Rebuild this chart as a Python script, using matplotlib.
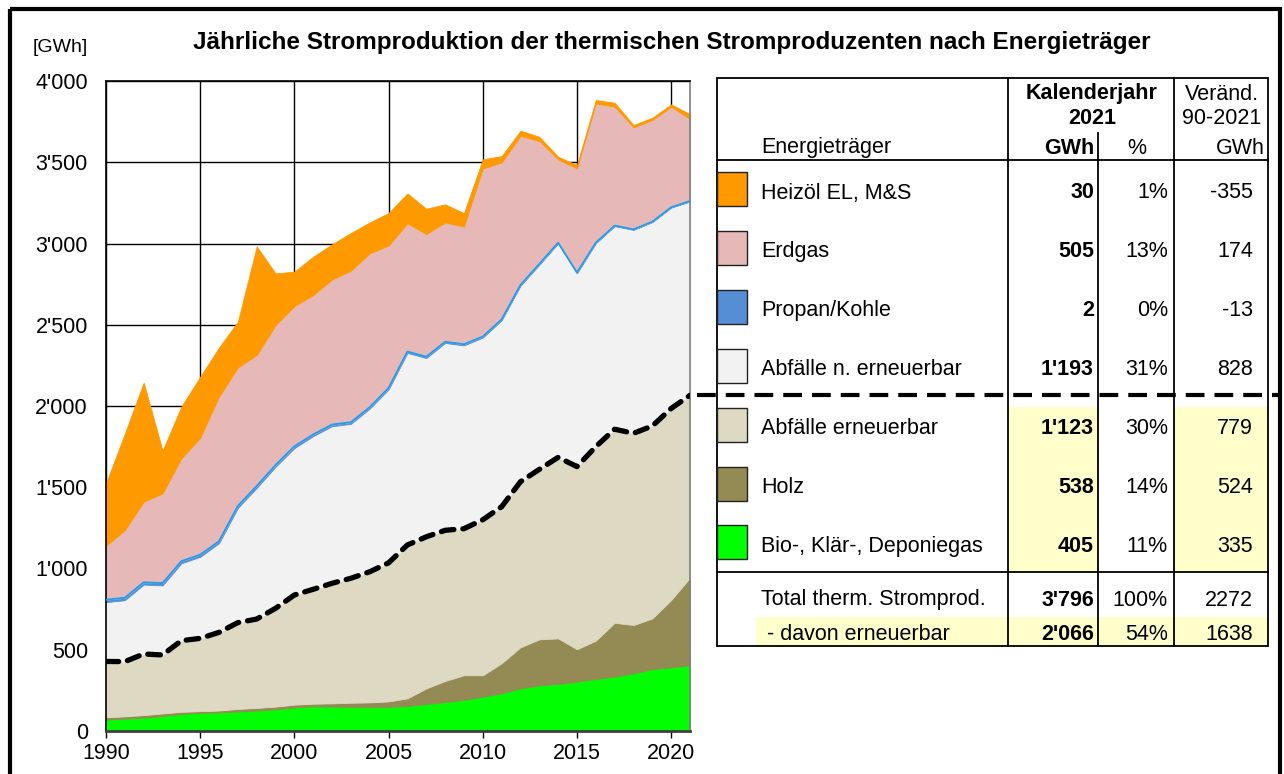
import numpy as np
import matplotlib
matplotlib.use('Agg')
import matplotlib.pyplot as plt
from matplotlib.patches import Rectangle
from matplotlib.ticker import FuncFormatter, MultipleLocator

plt.rcParams['font.family'] = ['Liberation Sans', 'DejaVu Sans']

# ---- data (GWh) ----
years = np.arange(1990, 2022)
bio = [70, 76, 82, 92, 105, 112, 114, 120, 126, 133, 145, 152, 150, 148, 146, 148,
       154, 166, 178, 191, 211, 232, 262, 281, 289, 304, 320, 334, 355, 380, 392, 405]
holz = [14, 14, 16, 16, 13, 10, 12, 16, 16, 17, 17, 16, 20, 26, 30, 34,
        47, 96, 130, 152, 132, 185, 253, 283, 281, 199, 236, 332, 297, 313, 414, 538]
abf_ern = [344, 337, 376, 360, 438, 448, 481, 531, 547, 605, 675, 704, 739, 766, 804, 853,
           944, 933, 927, 902, 957, 963, 1019, 1046, 1114, 1124, 1194, 1191, 1180, 1184, 1179, 1123]
abf_nicht = [365, 378, 427, 428, 476, 502, 549, 706, 807, 871, 904, 943, 967, 950, 1004, 1067,
             1182, 1100, 1153, 1128, 1121, 1147, 1206, 1259, 1317, 1190, 1252, 1250, 1252, 1255, 1236, 1193]
propan = [15, 15, 14, 14, 13, 13, 12, 12, 12, 11, 11, 10, 10, 10, 9, 9,
          8, 8, 7, 7, 6, 6, 5, 5, 4, 4, 3, 3, 3, 2, 2, 2]
erdgas = [331, 417, 496, 552, 633, 720, 890, 853, 806, 861, 863, 858, 893, 933, 947, 877,
          790, 755, 735, 724, 1035, 966, 917, 757, 513, 641, 857, 732, 628, 626, 619, 505]
heizoel = [385, 593, 733, 263, 318, 375, 302, 281, 668, 318, 212, 236, 216, 232, 190, 200,
           183, 156, 111, 83, 56, 39, 32, 26, 16, 21, 21, 24, 14, 14, 14, 30]

layers = [bio, holz, abf_ern, abf_nicht, propan, erdgas, heizoel]
colors = ['#00ff00', '#948a54', '#ddd9c3', '#f2f2f2', '#558ed5', '#e6b9b8', '#ff9900']

# table
tab_labels = ['Heizöl EL, M&S', 'Erdgas', 'Propan/Kohle', 'Abfälle n. erneuerbar',
              'Abfälle erneuerbar', 'Holz', 'Bio-, Klär-, Deponiegas']
tab_gwh = ["30", "505", "2", "1'193", "1'123", "538", "405"]
tab_pct = ['1%', '13%', '0%', '31%', '30%', '14%', '11%']
tab_chg = ['-355', '174', '-13', '828', '779', '524', '335']
tab_colors = colors[::-1]
tot_row = ['Total therm. Stromprod.', "3'796", '100%', '2272']
ren_row = [' - davon erneuerbar', "2'066", '54%', '1638']

W, H = 1284, 774
fig = plt.figure(figsize=(W / 100, H / 100), dpi=100)

# overlay in pixel coordinates for frame and table
ov = fig.add_axes([0, 0, 1, 1], zorder=0)
ov.set_xlim(0, W)
ov.set_ylim(H, 0)
ov.axis('off')

ov.add_patch(Rectangle((10, 9), 1270, 800, fill=False, lw=3, ec='black', clip_on=False))

# chart
ax = fig.add_axes([106 / W, 1 - 731 / H, 584 / W, 650 / H], zorder=2)
cum = np.vstack([np.zeros(len(years)), np.cumsum(np.array(layers), axis=0)])
for i, c in enumerate(colors):
    ax.fill_between(years, cum[i], cum[i + 1], color=c, lw=0.6, ec=c, zorder=2)
ax.plot(years, cum[5], color='#1e9cf0', lw=1.3, zorder=3)
renew = cum[3]
ax.plot(years, renew, color='black', lw=3.8, ls=(0, (2.4, 1.7)),
        dash_capstyle='round', zorder=4)
ax.plot([2021.35, 2052.3], [renew[-1], renew[-1]], color='black', lw=3.0,
        ls=(0, (4.5, 2.4)), clip_on=False, zorder=4)

ax.set_xlim(1990, 2021)
ax.set_ylim(0, 4000)
ax.xaxis.set_major_locator(MultipleLocator(5))
ax.yaxis.set_major_locator(MultipleLocator(500))
ax.yaxis.set_major_formatter(FuncFormatter(lambda v, p: f"{int(v):,}".replace(',', "'")))
ax.set_axisbelow(True)
ax.grid(True, color='black', lw=1.0)
ax.tick_params(axis='x', direction='inout', length=9.5, width=1, labelsize=15.5, pad=4)
ax.tick_params(axis='y', length=0, labelsize=15.5, pad=13)
for s in ['left', 'top']:
    ax.spines[s].set_color('black')
    ax.spines[s].set_linewidth(1.2)
ax.spines['right'].set_color('#808080')
ax.spines['right'].set_linewidth(1.2)
ax.spines['bottom'].set_color('#404040')
ax.spines['bottom'].set_linewidth(2)

fig.text(672 / W, 1 - 42 / H, 'Jährliche Stromproduktion der thermischen Stromproduzenten nach Energieträger',
         ha='center', va='center', fontsize=17.5, fontweight='bold')
fig.text(33 / W, 1 - 47 / H, '[GWh]', ha='left', va='center', fontsize=14)

# ---- table ----
fs = 15.5
xl, xr = 717, 1268
x1, x2, x3 = 1008, 1098, 1174
top, hdr, sep, bot = 78, 160, 572, 646

# yellow highlights
ov.add_patch(Rectangle((x1, 407), x2 - x1, sep - 407, color='#ffffcc', lw=0))
ov.add_patch(Rectangle((x3, 407), xr - x3, sep - 407, color='#ffffcc', lw=0))
ov.add_patch(Rectangle((756, 617), xr - 756, bot - 617, color='#ffffcc', lw=0))

ov.add_patch(Rectangle((xl, top), xr - xl, bot - top, fill=False, lw=1.3, ec='black'))
ov.plot([xl, xr], [hdr, hdr], color='black', lw=1.3)
ov.plot([xl, xr], [sep, sep], color='black', lw=1.3)
ov.plot([x1, x1], [top, bot], color='black', lw=1.3)
ov.plot([x3, x3], [top, bot], color='black', lw=1.3)
ov.plot([x2, x2], [133, bot], color='black', lw=1.3)

ov.text(1092, 94, 'Kalenderjahr', ha='center', va='center', fontsize=fs, fontweight='bold')
ov.text(1092, 119, '2021', ha='center', va='center', fontsize=fs, fontweight='bold')
ov.text(1222, 94, 'Veränd.', ha='center', va='center', fontsize=fs)
ov.text(1222, 119, '90-2021', ha='center', va='center', fontsize=fs)
ov.text(761, 148, 'Energieträger', ha='left', va='center', fontsize=fs)
ov.text(1094, 148, 'GWh', ha='right', va='center', fontsize=fs, fontweight='bold')
ov.text(1137, 148, '%', ha='center', va='center', fontsize=fs)
ov.text(1265, 148, 'GWh', ha='right', va='center', fontsize=fs)

for i in range(len(tab_labels)):
    yc = 189 + 58.9 * i
    ov.add_patch(Rectangle((xl, yc - 17), 30, 34, fc=tab_colors[i], ec='#222222', lw=1))
    ov.text(761, yc + 4, tab_labels[i], ha='left', va='center', fontsize=fs)
    ov.text(1094, yc + 4, tab_gwh[i], ha='right', va='center', fontsize=fs, fontweight='bold')
    ov.text(1168, yc + 4, tab_pct[i], ha='right', va='center', fontsize=fs)
    ov.text(1253, yc + 4, tab_chg[i], ha='right', va='center', fontsize=fs)

for row, yc in [(tot_row, 600), (ren_row, 634)]:
    ov.text(761, yc, row[0], ha='left', va='center', fontsize=fs)
    ov.text(1094, yc, row[1], ha='right', va='center', fontsize=fs, fontweight='bold')
    ov.text(1168, yc, row[2], ha='right', va='center', fontsize=fs)
    ov.text(1253, yc, row[3], ha='right', va='center', fontsize=fs)

fig.savefig('out.png', dpi=100)
